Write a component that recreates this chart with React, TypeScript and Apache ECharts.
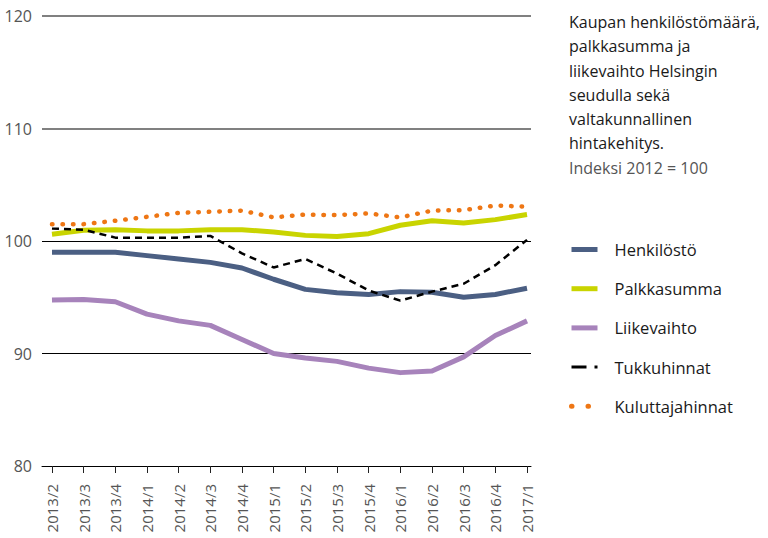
import React, { useEffect, useRef } from "react";
import * as echarts from "echarts";

const categories = [
  "2013/2", "2013/3", "2013/4", "2014/1", "2014/2", "2014/3", "2014/4", "2015/1",
  "2015/2", "2015/3", "2015/4", "2016/1", "2016/2", "2016/3", "2016/4", "2017/1",
];
const henkilosto = [99.0, 99.0, 99.0, 98.7, 98.4, 98.1, 97.6, 96.6, 95.7, 95.4, 95.25, 95.5, 95.45, 95.0, 95.25, 95.8];
const palkkasumma = [100.6, 100.95, 101.0, 100.9, 100.9, 101.0, 101.0, 100.8, 100.5, 100.4, 100.65, 101.4, 101.8, 101.6, 101.9, 102.35];
const liikevaihto = [94.75, 94.8, 94.6, 93.5, 92.9, 92.5, 91.25, 90.0, 89.6, 89.3, 88.7, 88.3, 88.45, 89.7, 91.6, 92.9];
const tukkuhinnat = [101.1, 101.0, 100.3, 100.3, 100.3, 100.45, 98.9, 97.65, 98.4, 97.1, 95.6, 94.7, 95.5, 96.2, 97.85, 100.1];
const kuluttajahinnat = [101.5, 101.5, 101.8, 102.15, 102.5, 102.6, 102.7, 102.1, 102.35, 102.3, 102.45, 102.1, 102.7, 102.75, 103.15, 103.05];

const yMin = 80;
const yMax = 120;
const yStep = 10;
const blackLevels = [90, 100];
const grayLevels = [110, 120];

const titleText =
  "Kaupan henkilöstömäärä,\npalkkasumma ja\nliikevaihto Helsingin\nseudulla sekä\nvaltakunnallinen\nhintakehitys.";
const subText = "Indeksi 2012 = 100";

const FONT = "'Open Sans', 'Noto Sans', sans-serif";

const pairs = (arr: number[]) => arr.map((v, i) => [i, v]);

export default function App() {
  const ref = useRef<HTMLDivElement>(null);
  useEffect(() => {
    if (!ref.current) return;
    const chart = echarts.init(ref.current, null, { renderer: "svg" });
    const idx = categories.map((_, i) => i);
    const hidden = { opacity: 0 };
    chart.setOption({
      animation: false,
      backgroundColor: "#ffffff",
      textStyle: { fontFamily: FONT },
      title: {
        text: titleText,
        subtext: subText,
        left: 569,
        top: 10,
        padding: 0,
        itemGap: 3,
        textStyle: {
          fontFamily: FONT,
          fontSize: 16,
          fontWeight: 500,
          color: "#1a1a1a",
          lineHeight: 24.2,
        },
        subtextStyle: {
          fontFamily: FONT,
          fontSize: 16,
          color: "#555555",
          lineHeight: 20,
        },
      },
      legend: {
        orient: "vertical",
        left: 569,
        top: 241,
        padding: 0,
        itemWidth: 26,
        itemHeight: 14,
        itemGap: 22.2,
        textStyle: {
          fontFamily: FONT,
          fontSize: 16.5,
          color: "#1a1a1a",
          padding: [0, 0, 0, 12],
        },
        data: [
          { name: "Henkilöstö", itemStyle: hidden, lineStyle: { width: 5 } },
          { name: "Palkkasumma", itemStyle: hidden, lineStyle: { width: 5 } },
          { name: "Liikevaihto", itemStyle: hidden, lineStyle: { width: 5 } },
          { name: "Tukkuhinnat", itemStyle: hidden, lineStyle: { width: 3, type: [15, 8] } },
          { name: "Kuluttajahinnat", itemStyle: hidden, lineStyle: { width: 5, type: [0.5, 16], cap: "round" } },
        ],
      },
      grid: { left: 42, right: 237, top: 16, bottom: 72 },
      xAxis: {
        type: "value",
        min: -0.315,
        max: 15.126,
        splitLine: { show: false },
        axisLine: { show: true, onZero: false, lineStyle: { color: "#000000", width: 1 } },
        axisTick: {
          show: true,
          length: 7,
          customValues: idx,
          lineStyle: { color: "#222222", width: 1 },
        },
        axisLabel: {
          customValues: idx,
          rotate: 90,
          margin: 18,
          fontSize: 15,
          color: "#555555",
          fontFamily: FONT,
          formatter: (v: number) => categories[Math.round(v)] ?? "",
        },
      },
      yAxis: {
        type: "value",
        min: yMin,
        max: yMax,
        interval: yStep,
        splitLine: { show: false },
        axisLine: { show: false },
        axisTick: { show: false },
        axisLabel: {
          margin: 10,
          fontSize: 16,
          color: "#555555",
          fontFamily: FONT,
        },
      },
      series: [
        {
          name: "Henkilöstö",
          type: "line",
          data: pairs(henkilosto),
          showSymbol: false,
          symbol: "none",
          lineStyle: { color: "#4b5f83", width: 5, join: "round" },
          itemStyle: { color: "#4b5f83" },
          z: 3,
          markLine: {
            silent: true,
            symbol: ["none", "none"],
            label: { show: false },
            z: 1,
            data: [
              ...blackLevels.map((v) => ({ yAxis: v, lineStyle: { color: "#000000", width: 1, type: "solid" } })),
              ...grayLevels.map((v) => ({ yAxis: v, lineStyle: { color: "#808080", width: 2, type: "solid" } })),
            ],
          },
        },
        {
          name: "Palkkasumma",
          type: "line",
          data: pairs(palkkasumma),
          showSymbol: false,
          symbol: "none",
          lineStyle: { color: "#c9d400", width: 5, join: "round" },
          itemStyle: { color: "#c9d400" },
          z: 3,
        },
        {
          name: "Liikevaihto",
          type: "line",
          data: pairs(liikevaihto),
          showSymbol: false,
          symbol: "none",
          lineStyle: { color: "#a783bb", width: 5, join: "round" },
          itemStyle: { color: "#a783bb" },
          z: 3,
        },
        {
          name: "Tukkuhinnat",
          type: "line",
          data: pairs(tukkuhinnat),
          showSymbol: false,
          symbol: "none",
          lineStyle: { color: "#000000", width: 2.5, type: [7, 5] },
          itemStyle: { color: "#000000" },
          z: 4,
        },
        {
          name: "Kuluttajahinnat",
          type: "line",
          data: pairs(kuluttajahinnat),
          showSymbol: false,
          symbol: "none",
          lineStyle: { color: "#ee7614", width: 4.5, type: [0.5, 10], cap: "round" },
          itemStyle: { color: "#ee7614" },
          z: 4,
        },
      ],
    });
    return () => chart.dispose();
  }, []);
  return (
    <div
      ref={ref}
      style={{ position: "fixed", left: 0, top: 0, width: 768, height: 538 }}
    />
  );
}
